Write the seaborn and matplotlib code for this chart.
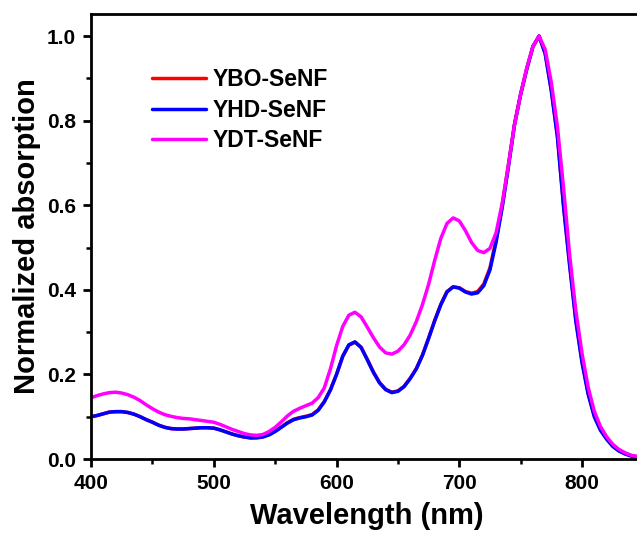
import numpy as np
import pandas as pd
import matplotlib
matplotlib.use("Agg")
import matplotlib.pyplot as plt
import seaborn as sns
from matplotlib.ticker import MultipleLocator, FormatStrFormatter

wavelength = list(range(400, 850, 5))

yhd = [0.100, 0.103, 0.107, 0.111, 0.112, 0.112, 0.110, 0.106, 0.100, 0.093,
       0.087, 0.080, 0.075, 0.072, 0.071, 0.071, 0.072, 0.073, 0.074, 0.074,
       0.073, 0.069, 0.064, 0.059, 0.055, 0.052, 0.050, 0.050, 0.052, 0.057,
       0.065, 0.075, 0.085, 0.093, 0.097, 0.100, 0.104, 0.115, 0.135, 0.163,
       0.200, 0.243, 0.270, 0.277, 0.264, 0.235, 0.205, 0.180, 0.164, 0.157,
       0.160, 0.171, 0.190, 0.213, 0.245, 0.285, 0.327, 0.365, 0.395, 0.407,
       0.404, 0.395, 0.390, 0.393, 0.410, 0.447, 0.513, 0.595, 0.690, 0.790,
       0.862, 0.922, 0.975, 1.000, 0.958, 0.870, 0.760, 0.595, 0.455, 0.325,
       0.228, 0.153, 0.100, 0.068, 0.047, 0.030, 0.019, 0.012, 0.007, 0.005]

ybo = [0.100, 0.103, 0.107, 0.111, 0.112, 0.112, 0.110, 0.106, 0.100, 0.093,
       0.087, 0.080, 0.075, 0.072, 0.071, 0.071, 0.072, 0.073, 0.074, 0.074,
       0.073, 0.069, 0.064, 0.059, 0.055, 0.052, 0.050, 0.051, 0.053, 0.058,
       0.066, 0.076, 0.086, 0.094, 0.098, 0.101, 0.105, 0.116, 0.136, 0.164,
       0.200, 0.242, 0.269, 0.276, 0.264, 0.236, 0.206, 0.181, 0.165, 0.158,
       0.161, 0.172, 0.191, 0.214, 0.246, 0.286, 0.328, 0.366, 0.396, 0.407,
       0.405, 0.396, 0.392, 0.396, 0.414, 0.452, 0.518, 0.600, 0.694, 0.792,
       0.863, 0.922, 0.975, 1.000, 0.960, 0.873, 0.765, 0.600, 0.460, 0.330,
       0.232, 0.157, 0.103, 0.070, 0.049, 0.031, 0.020, 0.013, 0.008, 0.005]

ydt = [0.145, 0.150, 0.154, 0.157, 0.158, 0.156, 0.152, 0.146, 0.138, 0.128,
       0.119, 0.111, 0.105, 0.101, 0.098, 0.096, 0.095, 0.093, 0.091, 0.089,
       0.087, 0.082, 0.076, 0.070, 0.065, 0.060, 0.057, 0.056, 0.058, 0.065,
       0.075, 0.088, 0.102, 0.113, 0.120, 0.126, 0.132, 0.145, 0.168, 0.213,
       0.268, 0.313, 0.340, 0.347, 0.336, 0.312, 0.287, 0.265, 0.251, 0.248,
       0.255, 0.270, 0.293, 0.325, 0.365, 0.413, 0.470, 0.522, 0.557, 0.570,
       0.563, 0.540, 0.512, 0.493, 0.488, 0.498, 0.535, 0.605, 0.695, 0.790,
       0.862, 0.925, 0.975, 1.000, 0.968, 0.890, 0.785, 0.640, 0.480, 0.350,
       0.250, 0.170, 0.113, 0.077, 0.053, 0.035, 0.023, 0.015, 0.009, 0.006]

series_names = ["YBO-SeNF", "YHD-SeNF", "YDT-SeNF"]
colors = ["#ff0000", "#0000ff", "#ff00ff"]

df = pd.concat([
    pd.DataFrame({"Wavelength": wavelength, "Abs": ybo, "Sample": series_names[0]}),
    pd.DataFrame({"Wavelength": wavelength, "Abs": yhd, "Sample": series_names[1]}),
    pd.DataFrame({"Wavelength": wavelength, "Abs": ydt, "Sample": series_names[2]}),
], ignore_index=True)

sns.set_style("ticks")
plt.rcParams["font.family"] = ["Liberation Sans", "DejaVu Sans"]
plt.rcParams["font.weight"] = "bold"
plt.rcParams["text.color"] = "black"
plt.rcParams["axes.labelcolor"] = "black"
plt.rcParams["xtick.color"] = "black"
plt.rcParams["ytick.color"] = "black"
plt.rcParams["lines.solid_joinstyle"] = "round"

fig = plt.figure(figsize=(6.37, 5.34), dpi=100)
ax = fig.add_axes([0.143, 0.1404, 0.867, 0.8333])

sns.lineplot(data=df, x="Wavelength", y="Abs", hue="Sample",
             palette=dict(zip(series_names, colors)), linewidth=2.5,
             ax=ax, legend=True)

ax.set_xlim(400, 850)
ax.set_ylim(0, 1.052)
ax.xaxis.set_major_locator(MultipleLocator(100))
ax.xaxis.set_minor_locator(MultipleLocator(50))
ax.yaxis.set_major_locator(MultipleLocator(0.2))
ax.yaxis.set_minor_locator(MultipleLocator(0.1))
ax.yaxis.set_major_formatter(FormatStrFormatter("%.1f"))

for s in ax.spines.values():
    s.set_linewidth(2)
    s.set_color("black")
ax.tick_params(which="major", direction="out", length=6, width=2,
               labelsize=15, colors="black", pad=5)
ax.tick_params(which="minor", direction="out", length=3.5, width=1.8, colors="black")
for lab in ax.get_xticklabels() + ax.get_yticklabels():
    lab.set_fontweight("bold")
    lab.set_color("black")

ax.set_xlabel("Wavelength (nm)", fontsize=21, fontweight="bold", labelpad=6, color="black")
ax.set_ylabel("Normalized absorption", fontsize=21, fontweight="bold", labelpad=4, color="black")

leg = ax.legend(loc="upper left", bbox_to_anchor=(0.094, 0.899), frameon=False,
                fontsize=16.5, handlelength=2.36, handletextpad=0.26,
                labelspacing=0.33, borderaxespad=0)
for t in leg.get_texts():
    t.set_fontweight("bold")
    t.set_color("black")
for l in leg.get_lines():
    l.set_linewidth(2.5)

fig.savefig("out.png", dpi=100)
